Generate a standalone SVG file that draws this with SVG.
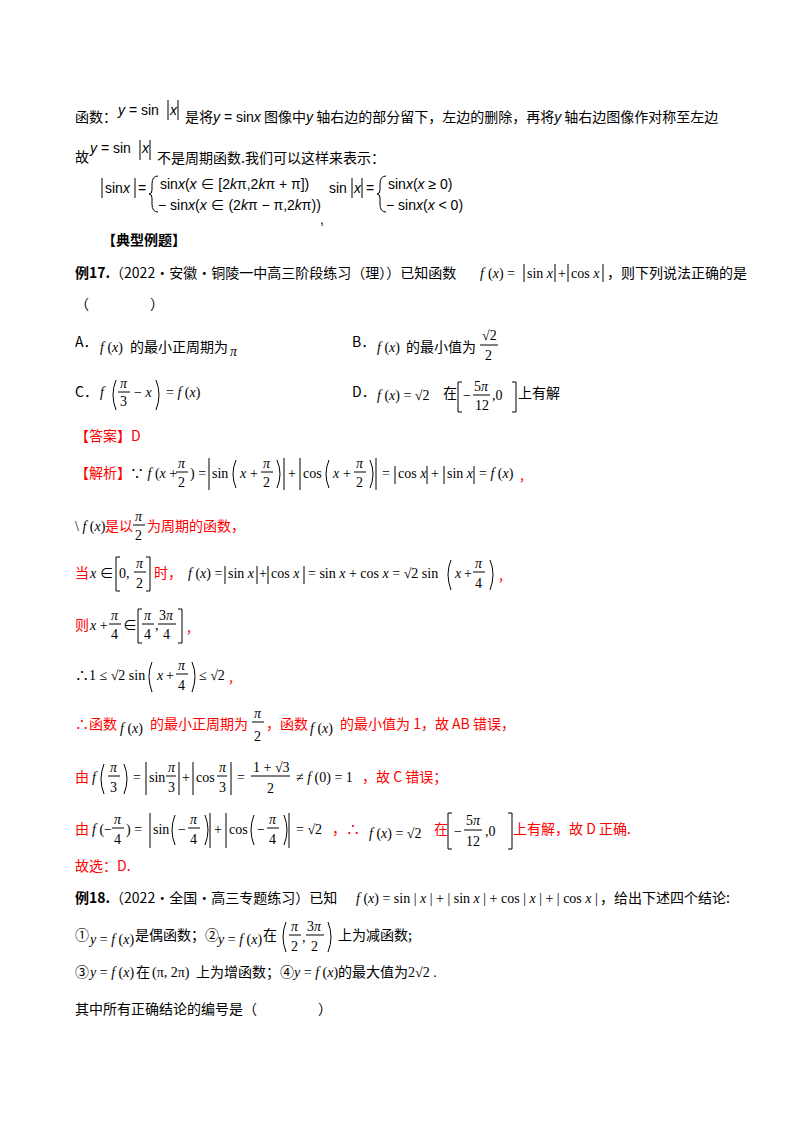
<svg xmlns="http://www.w3.org/2000/svg" width="800" height="1132" viewBox="0 0 800 1132">
<style>
text{font-family:"Liberation Serif","Noto Sans CJK SC",serif;font-size:14px;fill:#000}
.c{font-family:"Noto Sans CJK SC","Liberation Serif",serif}
.s{font-family:"Liberation Sans","Noto Sans CJK SC",sans-serif}
.i{font-style:italic}
.r,.r tspan{fill:#ff0000}
.b{font-weight:bold}
.k{stroke:#000;fill:none;stroke-width:1}
</style>
<rect width="800" height="1132" fill="#fff"/>
<g id="intro">
<text x="75" y="122" class="c">函数：</text>
<text x="118" y="115" class="s"><tspan class="i">y</tspan> = sin</text><path class="k" d="M168 100V120M178 100V120"/><text x="170" y="115" class="s i">x</text>
<text x="185" y="122" class="c">是将<tspan class="s i">y</tspan><tspan class="s"> = sin</tspan><tspan class="s i">x</tspan> 图像中<tspan class="s i">y</tspan> 轴右边的部分留下，左边的删除，再将<tspan class="s i">y</tspan> 轴右边图像作对称至左边</text>
<text x="75" y="162" class="c">故</text>
<text x="90" y="153" class="s"><tspan class="i">y</tspan> = sin</text><path class="k" d="M140 140V160M150 140V160"/><text x="142" y="153" class="s i">x</text>
<text x="157" y="163" class="c">不是周期函数.我们可以这样来表示：</text>
<path class="k" d="M102 178V198M135 178V198"/><text x="105" y="193" class="s">sin<tspan class="i">x</tspan></text><text x="138" y="193" class="s">=</text>
<path class="k" d="M158 176q-6 0-6 8v6q0 4-3 4q3 0 3 4v6q0 8 6 8"/>
<text x="160" y="189" class="s">sin<tspan class="i">x</tspan>(<tspan class="i">x</tspan> ∈ [2<tspan class="i">k</tspan>π,2<tspan class="i">k</tspan>π + π])</text>
<text x="158" y="210" class="s">− sin<tspan class="i">x</tspan>(<tspan class="i">x</tspan> ∈ (2<tspan class="i">k</tspan>π − π,2<tspan class="i">k</tspan>π))</text>
<text x="320" y="224" class="s">,</text>
<text x="329" y="193" class="s">sin</text><path class="k" d="M352 178V198M362 178V198"/><text x="354" y="193" class="s i">x</text><text x="366" y="193" class="s">=</text>
<path class="k" d="M386 176q-6 0-6 8v6q0 4-3 4q3 0 3 4v6q0 8 6 8"/>
<text x="388" y="189" class="s">sin<tspan class="i">x</tspan>(<tspan class="i">x</tspan> ≥ 0)</text>
<text x="386" y="210" class="s">− sin<tspan class="i">x</tspan>(<tspan class="i">x</tspan> &lt; 0)</text>
<text x="102" y="245" class="c b">【典型例题】</text>
</g>
<g id="ex17">
<text x="75" y="278" class="c"><tspan class="b">例17.</tspan>（2022·安徽·铜陵一中高三阶段练习（理））已知函数</text>
<text x="480" y="278" class="i">f</text><text x="488" y="278">(<tspan class="i">x</tspan>) =</text><path class="k" d="M524 264V282M555 264V282M568 264V282M603 264V282"/>
<text x="527" y="278">sin <tspan class="i">x</tspan></text><text x="558" y="278">+</text><text x="571" y="278">cos <tspan class="i">x</tspan></text>
<text x="607" y="278" class="c">，则下列说法正确的是</text>
<text x="75" y="309" class="c">（</text><text x="150" y="309" class="c">）</text>
<text x="75" y="347" class="c">A．</text><text x="100" y="352"><tspan class="i">f</tspan> (<tspan class="i">x</tspan>)</text><text x="130" y="352" class="c">的最小正周期为</text><text x="230" y="356" class="i">π</text>
<text x="352" y="347" class="c">B．</text><text x="377" y="352"><tspan class="i">f</tspan> (<tspan class="i">x</tspan>)</text><text x="406" y="352" class="c">的最小值为</text>
<text x="482" y="340">√2</text><path class="k" d="M480 345H498"/><text x="485" y="360">2</text>
<text x="75" y="397" class="c">C．</text><text x="100" y="397" class="i">f</text><path class="k" d="M116 380Q110 395 116 410M156 380Q162 395 156 410"/>
<text x="120" y="388" class="i">π</text><path class="k" d="M118 392H130"/><text x="120" y="406">3</text><text x="134" y="397">− <tspan class="i">x</tspan></text><text x="166" y="397">= <tspan class="i">f</tspan> (<tspan class="i">x</tspan>)</text>
<text x="352" y="397" class="c">D．</text><text x="377" y="400"><tspan class="i">f</tspan> (<tspan class="i">x</tspan>) = √2</text><text x="443" y="398" class="c">在</text>
<path class="k" d="M462 382h-4v30h4M512 382h4v30h-4"/><text x="463" y="400">−</text><text x="474" y="391">5<tspan class="i">π</tspan></text><path class="k" d="M473 395H490"/><text x="475" y="410">12</text><text x="492" y="400">,0</text>
<text x="518" y="398" class="c">上有解</text>
<text x="75" y="441" class="c r">【答案】<tspan fill="#000">D</tspan></text>
</g>
<g id="solution">
<text x="75" y="478" class="c r">【解析】</text><text x="130" y="478">∵ <tspan class="i">f</tspan> (<tspan class="i">x</tspan> +</text><text x="178" y="468" class="i">π</text><path class="k" d="M176 472H188"/><text x="178" y="487">2</text>
<text x="190" y="478">) =</text>
<path class="k" d="M209 458V490M284 458V490M300 458V490M376 458V490M236 460Q230 474 236 488M277 460Q283 474 277 488M329 460Q323 474 329 488M370 460Q376 474 370 488"/>
<text x="212" y="478">sin</text><text x="240" y="478" class="i">x</text><text x="250" y="478">+</text><text x="263" y="468" class="i">π</text><path class="k" d="M261 472H273"/><text x="263" y="487">2</text>
<text x="288" y="478">+</text>
<text x="303" y="478">cos</text><text x="333" y="478" class="i">x</text><text x="343" y="478">+</text><text x="356" y="468" class="i">π</text><path class="k" d="M354 472H366"/><text x="356" y="487">2</text>
<text x="382" y="478">=</text><path class="k" d="M395 466V484M427 466V484M444 466V484M474 466V484"/><text x="398" y="478">cos <tspan class="i">x</tspan></text><text x="431" y="478">+</text><text x="447" y="478">sin <tspan class="i">x</tspan></text><text x="479" y="478">= <tspan class="i">f</tspan> (<tspan class="i">x</tspan>)</text><text x="520" y="480" class="c r">,</text>

<text x="75" y="531">\ <tspan class="i">f</tspan> (<tspan class="i">x</tspan>)</text><text x="105" y="531" class="c r">是以</text><text x="135" y="521" class="i">π</text><path class="k" d="M133 525H145"/><text x="135" y="540">2</text><text x="147" y="531" class="c r">为周期的函数，</text>

<text x="75" y="578" class="c r">当</text><text x="90" y="578"><tspan class="i">x</tspan> ∈</text><path class="k" d="M120 557h-4v34h4M146 557h4v34h-4"/><text x="119" y="578">0,</text><text x="136" y="568" class="i">π</text><path class="k" d="M134 572H146"/><text x="136" y="588">2</text>
<text x="154" y="578" class="c r">时，</text><text x="188" y="578"><tspan class="i">f</tspan> (<tspan class="i">x</tspan>) =</text><path class="k" d="M225 566V584M257 566V584M268 566V584M304 566V584"/><text x="228" y="578">sin <tspan class="i">x</tspan></text><text x="259" y="578">+</text><text x="271" y="578">cos <tspan class="i">x</tspan></text>
<text x="308" y="578">= sin <tspan class="i">x</tspan> + cos <tspan class="i">x</tspan> = √2 sin</text><path class="k" d="M451 560Q445 574 451 590M490 560Q496 574 490 590"/><text x="455" y="578" class="i">x</text><text x="464" y="578">+</text><text x="475" y="568" class="i">π</text><path class="k" d="M473 572H485"/><text x="475" y="588">4</text><text x="499" y="580" class="c r">,</text>

<text x="75" y="630" class="c r">则</text><text x="90" y="630"><tspan class="i">x</tspan> +</text><text x="111" y="620" class="i">π</text><path class="k" d="M109 624H121"/><text x="111" y="639">4</text><text x="123" y="630">∈</text>
<path class="k" d="M142 609h-4v34h4M178 609h4v34h-4"/><text x="144" y="620" class="i">π</text><path class="k" d="M142 624H154"/><text x="144" y="639">4</text><text x="155" y="630">,</text><text x="159" y="620">3<tspan class="i">π</tspan></text><path class="k" d="M158 624H176"/><text x="163" y="639">4</text><text x="187" y="632" class="c r">,</text>

<text x="75" y="680">∴1 ≤ √2 sin</text><path class="k" d="M152 662Q146 676 152 692M192 662Q198 676 192 692"/><text x="157" y="680" class="i">x</text><text x="166" y="680">+</text><text x="178" y="670" class="i">π</text><path class="k" d="M176 674H188"/><text x="178" y="690">4</text><text x="199" y="680">≤ √2</text><text x="229" y="682" class="c r">,</text>

<text x="75" y="729" class="c r">∴函数</text><text x="120" y="733"><tspan class="i">f</tspan> (<tspan class="i">x</tspan>)</text><text x="150" y="729" class="c r">的最小正周期为</text><text x="254" y="718" class="i">π</text><path class="k" d="M252 722H264"/><text x="254" y="741">2</text>
<text x="266" y="729" class="c r">，函数</text><text x="310" y="733"><tspan class="i">f</tspan> (<tspan class="i">x</tspan>)</text><text x="340" y="729" class="c r">的最小值为 1，故 AB 错误，</text>

<text x="75" y="782" class="c r">由</text><text x="92" y="782" class="i">f</text><path class="k" d="M104 764Q98 779 104 794M124 764Q130 779 124 794"/><text x="110" y="772" class="i">π</text><path class="k" d="M108 776H120"/><text x="110" y="792">3</text><text x="133" y="782">=</text>
<path class="k" d="M146 762V795M179 762V795M193 762V795M231 762V795"/><text x="149" y="782">sin</text><text x="168" y="772" class="i">π</text><path class="k" d="M166 776H176"/><text x="168" y="792">3</text><text x="182" y="782">+</text><text x="196" y="782">cos</text><text x="219" y="772" class="i">π</text><path class="k" d="M217 776H227"/><text x="219" y="792">3</text>
<text x="237" y="782">=</text><text x="253" y="772">1 + √3</text><path class="k" d="M251 776H290"/><text x="267" y="793">2</text><text x="296" y="782">≠ <tspan class="i">f</tspan> (0) = 1</text><text x="362" y="782" class="c r">，故 C 错误；</text>

<text x="75" y="834" class="c r">由</text><text x="92" y="834"><tspan class="i">f</tspan> (−</text><text x="114" y="824" class="i">π</text><path class="k" d="M112 828H124"/><text x="114" y="844">4</text><text x="126" y="834">) =</text>
<path class="k" d="M150 813V848M210 813V848M226 813V848M289 813V848M175 815Q169 830 175 845M205 815Q211 830 205 845M254 815Q248 830 254 845M284 815Q290 830 284 845"/>
<text x="153" y="834">sin</text><text x="178" y="834">−</text><text x="190" y="824" class="i">π</text><path class="k" d="M188 828H200"/><text x="190" y="844">4</text>
<text x="214" y="834">+</text>
<text x="229" y="834">cos</text><text x="257" y="834">−</text><text x="269" y="824" class="i">π</text><path class="k" d="M267 828H279"/><text x="269" y="844">4</text>
<text x="296" y="834">= √2</text><text x="332" y="834" class="c r">，∴</text><text x="369" y="838"><tspan class="i">f</tspan> (<tspan class="i">x</tspan>) = √2</text><text x="434" y="834" class="c r">在</text>
<path class="k" d="M452 813h-4v36h4M508 813h4v36h-4"/><text x="454" y="836">−</text><text x="466" y="825">5<tspan class="i">π</tspan></text><path class="k" d="M464 830H482"/><text x="466" y="846">12</text><text x="485" y="836">,0</text>
<text x="513" y="834" class="c r">上有解，故 D 正确.</text>
<text x="75" y="871" class="c r">故选：D.</text>
</g>
<g id="ex18">
<text x="75" y="903" class="c"><tspan class="b">例18.</tspan>（2022·全国·高三专题练习）已知</text>
<text x="356" y="903" font-size="13"><tspan class="i">f</tspan> (<tspan class="i">x</tspan>) = sin | <tspan class="i">x</tspan> | + | sin <tspan class="i">x</tspan> | + cos | <tspan class="i">x</tspan> | + | cos <tspan class="i">x</tspan> |</text>
<text x="600" y="903" class="c">，给出下述四个结论:</text>
<text x="75" y="940" class="c">①</text><text x="90" y="944"><tspan class="i">y</tspan> = <tspan class="i">f</tspan> (<tspan class="i">x</tspan>)</text><text x="135" y="940" class="c">是偶函数；②</text><text x="218" y="944"><tspan class="i">y</tspan> = <tspan class="i">f</tspan> (<tspan class="i">x</tspan>)</text><text x="263" y="940" class="c">在</text>
<path class="k" d="M286 922Q280 937 286 952M328 922Q334 937 328 952"/><text x="291" y="931" class="i">π</text><path class="k" d="M289 935H301"/><text x="291" y="951">2</text><text x="302" y="942">,</text><text x="307" y="931">3<tspan class="i">π</tspan></text><path class="k" d="M306 935H324"/><text x="311" y="951">2</text>
<text x="338" y="940" class="c">上为减函数;</text>
<text x="75" y="977" class="c">③</text><text x="90" y="977"><tspan class="i">y</tspan> = <tspan class="i">f</tspan> (<tspan class="i">x</tspan>)</text><text x="136" y="977" class="c">在</text><text x="152" y="977">(π, 2π)</text><text x="196" y="977" class="c">上为增函数；④</text><text x="294" y="977"><tspan class="i">y</tspan> = <tspan class="i">f</tspan> (<tspan class="i">x</tspan>)</text><text x="338" y="977" class="c">的最大值为</text><text x="408" y="977">2√2 .</text>
<text x="75" y="1014" class="c">其中所有正确结论的编号是（</text><text x="318" y="1014" class="c">）</text>
</g>
</svg>
